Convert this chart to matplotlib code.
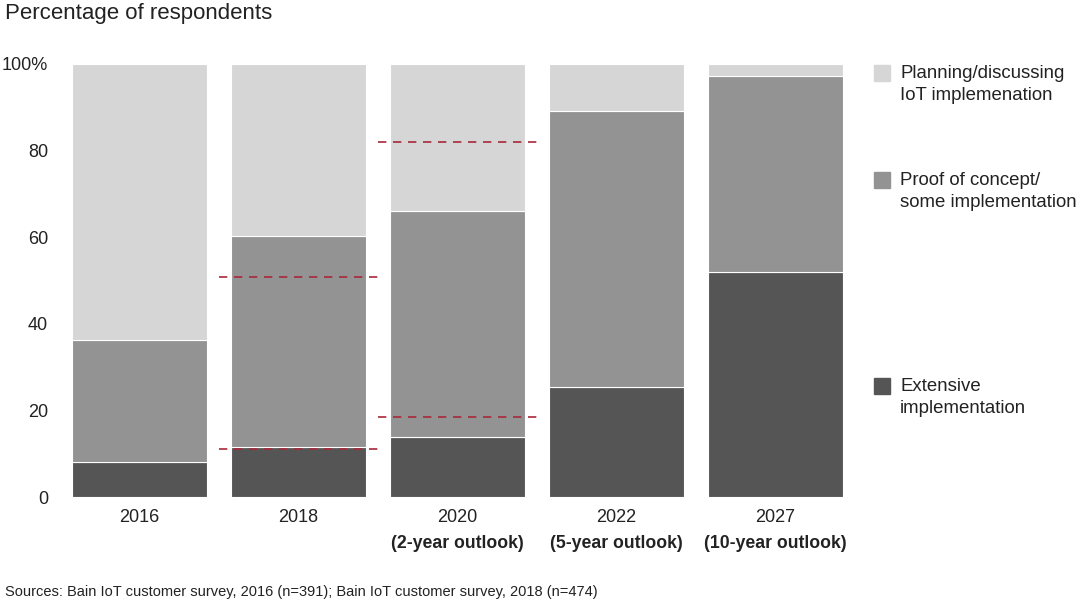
import numpy as np
import matplotlib.pyplot as plt

plt.rcParams['font.family'] = ['Liberation Sans', 'DejaVu Sans']

years = ['2016', '2018', '2020', '2022', '2027']
outlooks = ['', '', '(2-year outlook)', '(5-year outlook)', '(10-year outlook)']
extensive = [8.1, 11.5, 13.9, 25.4, 52.0]
proof = [28.2, 48.8, 52.1, 63.7, 45.2]
planning = [63.7, 39.7, 34.0, 10.9, 2.8]
# dashed markers (2016 survey expectations)
exp_pos = [1, 1, 2, 2]
exp_val = [11.1, 50.8, 18.5, 82.0]

c_light, c_mid, c_dark = '#d6d6d6', '#939393', '#555555'

fig = plt.figure(figsize=(10.8, 6.08), dpi=100)
ax = fig.add_axes([60 / 1080, 1 - 497 / 608, 795 / 1080, 433 / 608])

x = np.arange(len(years))
w = 0.855
ext = np.array(extensive)
prf = np.array(proof)
pln = np.array(planning)
ax.bar(x, ext, w, color=c_dark, edgecolor='white', linewidth=0.8)
ax.bar(x, prf, w, bottom=ext, color=c_mid, edgecolor='white', linewidth=0.8)
ax.bar(x, pln, w, bottom=ext + prf, color=c_light, edgecolor='white', linewidth=0.8)

for p, v in zip(exp_pos, exp_val):
    ax.hlines(v, p - 0.5, p + 0.5, colors='#a8293a', linestyles=(0, (5, 4)), linewidth=1.2, zorder=3)

ax.set_xlim(-0.5, 4.5)
ax.set_ylim(0, 100)
ax.set_yticks([0, 20, 40, 60, 80, 100])
ax.set_yticklabels(['0', '20', '40', '60', '80', '100%'], fontsize=13, color='#222222')
ax.set_xticks(x)
ax.set_xticklabels(years, fontsize=13, color='#222222')
ax.tick_params(length=0)
ax.tick_params(axis='x', pad=9)
ax.tick_params(axis='y', pad=8.6)
for s in ax.spines.values():
    s.set_visible(False)

for xi, o in zip(x, outlooks):
    if o:
        ax.text(xi, -10.8, o, ha='center', va='center', fontsize=12.7, fontweight='bold', color='#222222')

# legend
leg = [(c_light, 'Planning/discussing\nIoT implemenation', 73),
       (c_mid, 'Proof of concept/\nsome implementation', 180),
       (c_dark, 'Extensive\nimplementation', 386)]
for col, lab, yp in leg:
    fig.patches.append(plt.Rectangle((874 / 1080, 1 - (yp + 8) / 608), 16 / 1080, 16 / 608,
                                     transform=fig.transFigure, color=col))
    fig.text(900 / 1080, 1 - (yp + 11.5) / 608, lab, fontsize=13.4, va='center', color='#222222', linespacing=1.45)

fig.text(5 / 1080, 1 - 14 / 608, 'Percentage of respondents', fontsize=16, va='center', color='#222222')
fig.text(5 / 1080, 1 - 592 / 608, 'Sources: Bain IoT customer survey, 2016 (n=391); Bain IoT customer survey, 2018 (n=474)',
         fontsize=10.5, va='center', color='#222222')

fig.savefig('out.png', dpi=100)
